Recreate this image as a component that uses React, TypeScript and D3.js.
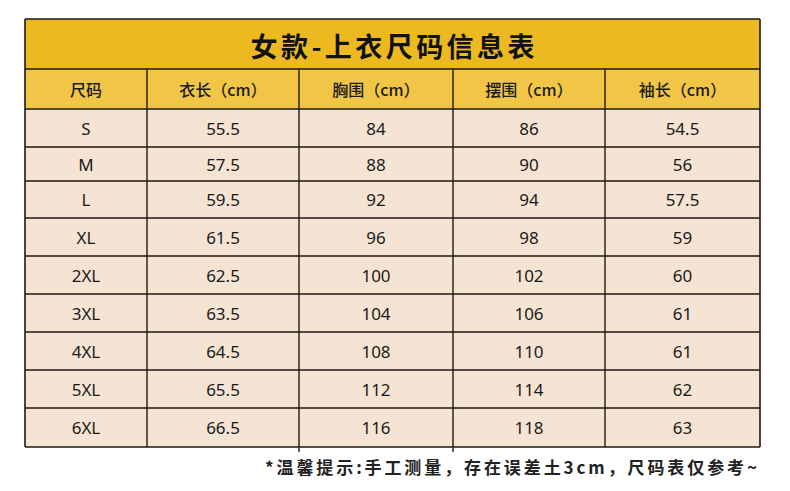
import React from 'react';
import * as d3 from 'd3';

const title = '女款-上衣尺码信息表';
const headers = ['尺码', '衣长（cm）', '胸围（cm）', '摆围（cm）', '袖长（cm）'];
const sizes = ['S', 'M', 'L', 'XL', '2XL', '3XL', '4XL', '5XL', '6XL'];
const lengthCm = ['55.5', '57.5', '59.5', '61.5', '62.5', '63.5', '64.5', '65.5', '66.5'];
const chestCm = ['84', '88', '92', '96', '100', '104', '108', '112', '116'];
const hemCm = ['86', '90', '94', '98', '102', '106', '110', '114', '118'];
const sleeveCm = ['54.5', '56', '57.5', '59', '60', '61', '61', '62', '63'];
const note = '*温馨提示:手工测量，存在误差土3cm，尺码表仅参考~';

const W = 790;
const H = 491;
const colEdges = [25, 147, 299, 453, 605, 760];
const rowEdges = [109, 147, 181, 218, 256, 294, 332, 370, 408, 447];
const tableTop = 19;
const titleBottom = 69;
const headerBottom = 109;

const columns = [sizes, lengthCm, chestCm, hemCm, sleeveCm];

export default function App() {
  const colIdx = d3.range(headers.length);
  const rowIdx = d3.range(sizes.length);
  const colLeft = d3.scaleOrdinal<number, number>().domain(colIdx).range(colEdges.slice(0, -1));
  const colRight = d3.scaleOrdinal<number, number>().domain(colIdx).range(colEdges.slice(1));
  const rowTop = d3.scaleOrdinal<number, number>().domain(rowIdx).range(rowEdges.slice(0, -1));
  const rowBot = d3.scaleOrdinal<number, number>().domain(rowIdx).range(rowEdges.slice(1));
  const colMid = (c: number) => (colLeft(c) + colRight(c)) / 2;
  const rowMid = (r: number) => (rowTop(r) + rowBot(r)) / 2;
  const left = colEdges[0];
  const right = colEdges[colEdges.length - 1];
  const bottom = rowEdges[rowEdges.length - 1];
  const stroke = '#1e1a14';
  const cjk = '"Noto Sans CJK SC", "Noto Sans", sans-serif';
  const latin = '"Noto Sans", "Open Sans", sans-serif';

  return (
    <svg width={W} height={H} style={{ position: 'absolute', left: 0, top: 0, background: '#ffffff' }}>
      <rect x={0} y={0} width={W} height={H} fill="#ffffff" />
      {/* title band */}
      <rect x={left} y={tableTop} width={right - left} height={titleBottom - tableTop} fill="#edb921" />
      {/* header band */}
      <rect x={left} y={titleBottom} width={right - left} height={headerBottom - titleBottom} fill="#f1c646" />
      {/* body */}
      <rect x={left} y={headerBottom} width={right - left} height={bottom - headerBottom} fill="#f5e4d3" />

      <text
        x={(left + right) / 2}
        y={(tableTop + titleBottom) / 2 + 1}
        textAnchor="middle"
        dominantBaseline="central"
        fontFamily={cjk}
        fontWeight={700}
        fontSize={27}
        textLength={284}
        lengthAdjust="spacing"
        fill="#111"
      >
        {title}
      </text>

      {headers.map((h, c) => (
        <text
          key={'h' + c}
          x={colMid(c)}
          y={(titleBottom + headerBottom) / 2}
          textAnchor="middle"
          dominantBaseline="central"
          fontFamily={cjk}
          fontWeight={500}
          fontSize={16}
          fill="#1a1a1a"
        >
          {h}
        </text>
      ))}

      {rowIdx.map((r) =>
        columns.map((col, c) => (
          <text
            key={'c' + r + '-' + c}
            x={colMid(c)}
            y={rowMid(r)}
            textAnchor="middle"
            dominantBaseline="central"
            fontFamily={latin}
            fontSize={17}
            fill="#1a1a1a"
          >
            {col[r]}
          </text>
        ))
      )}

      {/* horizontal lines */}
      {[tableTop, titleBottom, ...rowEdges].map((y, i) => (
        <line key={'hl' + i} x1={left} x2={right} y1={y} y2={y} stroke={stroke} strokeWidth={1.6} />
      ))}
      {/* vertical outer lines */}
      <line x1={left} x2={left} y1={tableTop} y2={bottom} stroke={stroke} strokeWidth={1.6} />
      <line x1={right} x2={right} y1={tableTop} y2={bottom} stroke={stroke} strokeWidth={1.6} />
      {/* inner column dividers */}
      {colEdges.slice(1, -1).map((x, i) => (
        <line
          key={'vl' + i}
          x1={x}
          x2={x}
          y1={titleBottom}
          y2={i === 1 || i === 2 ? bottom + 5 : bottom}
          stroke={stroke}
          strokeWidth={1.4}
        />
      ))}

      <text
        x={757}
        y={466}
        textAnchor="end"
        dominantBaseline="central"
        fontFamily={cjk}
        fontWeight={700}
        fontSize={17}
        textLength={492}
        lengthAdjust="spacing"
        fill="#222"
      >
        {note}
      </text>
    </svg>
  );
}
